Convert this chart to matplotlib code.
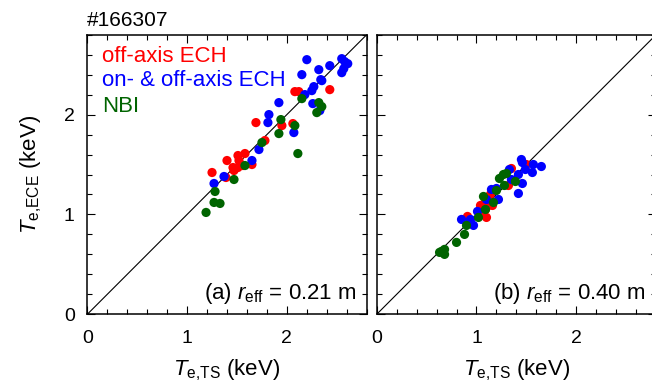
import matplotlib
matplotlib.use('Agg')
import matplotlib.pyplot as plt
from matplotlib.ticker import MultipleLocator

plt.rcParams['font.family'] = ['Liberation Sans', 'DejaVu Sans']
plt.rcParams['mathtext.fontset'] = 'custom'
plt.rcParams['mathtext.rm'] = 'Liberation Sans'
plt.rcParams['mathtext.it'] = 'Liberation Sans:italic'

# (a) r_eff = 0.21 m
a_offaxis_x = [1.69, 2.08, 2.12, 2.43, 2.06, 1.95, 1.78, 1.25, 1.40, 1.51, 1.58, 1.52, 1.46, 1.51, 1.56, 1.47, 1.65, 1.39]
a_offaxis_y = [1.92, 2.23, 2.23, 2.25, 1.91, 1.89, 1.74, 1.42, 1.54, 1.59, 1.61, 1.54, 1.47, 1.47, 1.49, 1.44, 1.50, 1.37]
a_onoff_x = [2.20, 2.55, 2.58, 2.61, 2.57, 2.55, 2.43, 2.32, 2.15, 2.34, 2.35, 2.27, 2.25, 2.18, 1.92, 2.26, 2.33, 1.82, 1.81, 2.07, 1.72, 1.65, 1.37, 1.27]
a_onoff_y = [2.55, 2.56, 2.53, 2.51, 2.46, 2.42, 2.49, 2.45, 2.40, 2.35, 2.34, 2.28, 2.24, 2.20, 2.12, 2.11, 2.04, 2.00, 1.92, 1.82, 1.65, 1.54, 1.38, 1.31]
a_nbi_x = [2.15, 2.32, 2.35, 2.30, 1.94, 2.08, 1.92, 1.75, 2.11, 1.58, 1.47, 1.28, 1.27, 1.33, 1.19]
a_nbi_y = [2.16, 2.12, 2.08, 2.02, 1.95, 1.89, 1.81, 1.72, 1.61, 1.49, 1.35, 1.23, 1.12, 1.11, 1.02]

# (b) r_eff = 0.40 m
b_offaxis_x = [0.91, 1.07, 1.09, 1.12, 1.16, 1.04, 1.08, 1.14, 1.35, 1.50, 1.32, 1.10]
b_offaxis_y = [0.98, 1.00, 1.05, 1.09, 1.09, 1.09, 1.11, 1.20, 1.46, 1.50, 1.29, 0.97]
b_onoff_x = [0.85, 0.94, 0.97, 1.01, 1.10, 1.15, 1.20, 1.22, 1.33, 1.45, 1.46, 1.49, 1.57, 1.65, 1.56, 1.42, 1.46, 1.42, 1.35]
b_onoff_y = [0.95, 0.95, 0.89, 1.03, 1.15, 1.25, 1.26, 1.15, 1.45, 1.55, 1.52, 1.45, 1.50, 1.48, 1.42, 1.40, 1.31, 1.21, 1.35]
b_nbi_x = [0.63, 0.65, 0.68, 0.68, 0.80, 0.88, 0.90, 1.02, 1.09, 1.17, 1.07, 1.20, 1.28, 1.23, 1.27, 1.30, 1.39]
b_nbi_y = [0.62, 0.63, 0.60, 0.65, 0.72, 0.80, 0.89, 0.97, 1.05, 1.12, 1.18, 1.24, 1.29, 1.36, 1.40, 1.41, 1.33]

series_labels = ['off-axis ECH', 'on- & off-axis ECH', 'NBI']
series_colors = ['#ff0000', '#0000ff', '#006400']
panel_labels = [r'(a) $r_{\rm eff}$ = 0.21 m', r'(b) $r_{\rm eff}$ = 0.40 m']

fig = plt.figure(figsize=(6.52, 3.84), dpi=100)
W, H = 652.0, 384.0
ax1 = fig.add_axes([87.3 / W, (H - 314.3) / H, 279.4 / W, 279.6 / H])
ax2 = fig.add_axes([376.7 / W, (H - 314.3) / H, 279.4 / W, 279.6 / H])

panels = [
    (ax1, [(a_offaxis_x, a_offaxis_y), (a_onoff_x, a_onoff_y), (a_nbi_x, a_nbi_y)]),
    (ax2, [(b_offaxis_x, b_offaxis_y), (b_onoff_x, b_onoff_y), (b_nbi_x, b_nbi_y)]),
]

for i, (ax, data) in enumerate(panels):
    ax.plot([0, 2.8], [0, 2.8], color='black', lw=0.8, zorder=1)
    for (xs, ys), c in zip(data, series_colors):
        ax.scatter(xs, ys, s=44, color=c, edgecolors='none', zorder=2)
    ax.set_xlim(0, 2.8)
    ax.set_ylim(0, 2.8)
    ax.xaxis.set_major_locator(MultipleLocator(1))
    ax.xaxis.set_minor_locator(MultipleLocator(0.2))
    ax.yaxis.set_major_locator(MultipleLocator(1))
    ax.yaxis.set_minor_locator(MultipleLocator(0.2))
    ax.tick_params(which='both', direction='in', top=True, right=True, width=0.8, labelsize=14)
    ax.tick_params(which='major', length=6)
    ax.tick_params(which='minor', length=3.6)
    ax.tick_params(axis='x', which='both', pad=11)
    ax.tick_params(axis='y', which='both', pad=9)
    for sp in ax.spines.values():
        sp.set_linewidth(1.1)
    ax.set_xlabel(r'$T_{\rm e{,}TS}$ (keV)', fontsize=16, labelpad=8)
    ax.text(0.964, 0.056, panel_labels[i], transform=ax.transAxes, ha='right', va='baseline', fontsize=16)

ax2.tick_params(labelleft=False)
ax1.set_ylabel(r'$T_{\rm e{,}ECE}$ (keV)', fontsize=16, labelpad=14)

for lbl, c, yy in zip(series_labels, series_colors, [0.903, 0.8165, 0.7235]):
    ax1.text(0.053, yy, lbl, color=c, transform=ax1.transAxes, ha='left', va='baseline', fontsize=16)

ax1.text(0.0, 1.03, '#166307', transform=ax1.transAxes, ha='left', va='baseline', fontsize=15)

fig.savefig('out.png', dpi=100)
